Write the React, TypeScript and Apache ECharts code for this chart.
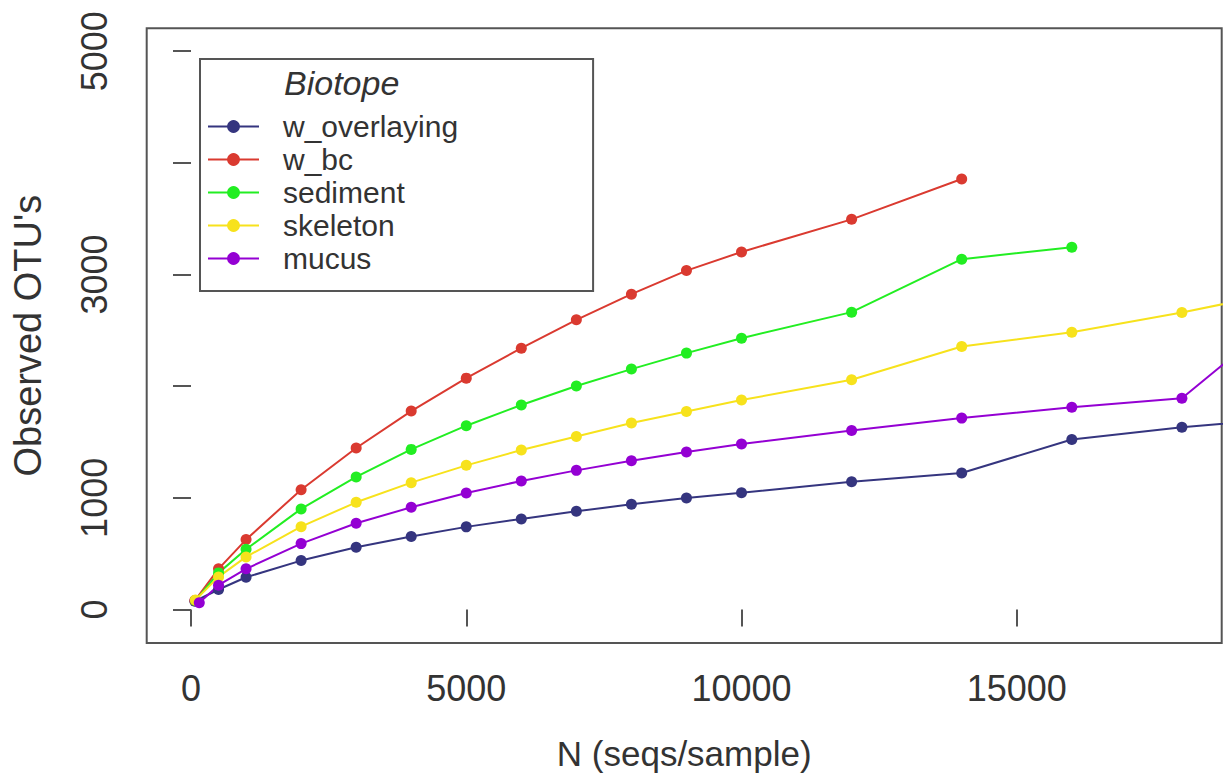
import React, { useEffect, useRef } from "react";
import * as echarts from "echarts";

const FONT = "'Liberation Sans', Arial, Helvetica, sans-serif";

const seriesNames = ["w_overlaying", "w_bc", "sediment", "skeleton", "mucus"];
const seriesColors = ["#35357F", "#DA3A30", "#22EE22", "#F7E21C", "#9400D3"];

const xTicks = [0, 5000, 10000, 15000];
const yTicks = [0, 1000, 2000, 3000, 4000, 5000];
const yLabels = [0, 1000, 3000, 5000];

// sampling depths
const xOverlaying = [70, 500, 1000, 2000, 3000, 4000, 5000, 6000, 7000, 8000, 9000, 10000, 12000, 14000, 16000, 18000, 20000];
const yOverlaying = [74, 179, 289, 438, 557, 653, 740, 811, 879, 942, 999, 1046, 1145, 1223, 1522, 1633, 1716];

const xBc = [70, 500, 1000, 2000, 3000, 4000, 5000, 6000, 7000, 8000, 9000, 10000, 12000, 14000];
const yBc = [80, 364, 626, 1073, 1446, 1777, 2072, 2340, 2594, 2824, 3035, 3202, 3494, 3855];

const xSediment = [80, 500, 1000, 2000, 3000, 4000, 5000, 6000, 7000, 8000, 9000, 10000, 12000, 14000, 16000];
const ySediment = [80, 328, 540, 901, 1187, 1434, 1646, 1831, 2001, 2153, 2296, 2430, 2663, 3137, 3245];

const xSkeleton = [80, 500, 1000, 2000, 3000, 4000, 5000, 6000, 7000, 8000, 9000, 10000, 12000, 14000, 16000, 18000, 20000];
const ySkeleton = [85, 292, 471, 742, 960, 1136, 1291, 1428, 1550, 1670, 1774, 1876, 2057, 2355, 2483, 2660, 2860];

const xMucus = [150, 500, 1000, 2000, 3000, 4000, 5000, 6000, 7000, 8000, 9000, 10000, 12000, 14000, 16000, 18000, 20000];
const yMucus = [60, 218, 364, 590, 772, 915, 1044, 1151, 1246, 1333, 1411, 1482, 1604, 1714, 1812, 1892, 2700];

const xs = [xOverlaying, xBc, xSediment, xSkeleton, xMucus];
const ys = [yOverlaying, yBc, ySediment, ySkeleton, yMucus];

export default function App() {
  const ref = useRef<HTMLDivElement>(null);
  useEffect(() => {
    if (!ref.current) return;
    const chart = echarts.init(ref.current, undefined, { renderer: "svg" });
    const series = seriesNames.map((name, i) => ({
      name,
      type: "line",
      data: xs[i].map((x, j) => [x, ys[i][j]]),
      symbol: "circle",
      symbolSize: 11,
      showSymbol: true,
      clip: true,
      color: seriesColors[i],
      itemStyle: { color: seriesColors[i] },
      lineStyle: { color: seriesColors[i], width: 2 },
      emphasis: { disabled: true },
    }));
    chart.setOption({
      animation: false,
      backgroundColor: "#ffffff",
      grid: {
        left: 146.7,
        right: 1.3,
        top: 28.3,
        bottom: 140,
        show: true,
        borderColor: "#555",
        borderWidth: 2,
      },
      xAxis: {
        type: "value",
        min: -805,
        max: 18723,
        axisLine: { show: false },
        splitLine: { show: false },
        axisTick: {
          show: true,
          length: 17,
          lineStyle: { color: "#555", width: 2 },
          customValues: xTicks,
        },
        axisLabel: {
          customValues: xTicks,
          formatter: (v: number) => String(v),
          fontSize: 36,
          color: "#333",
          fontFamily: FONT,
          margin: 27,
        },
        name: "N (seqs/sample)",
        nameLocation: "middle",
        nameGap: 93,
        nameTextStyle: { fontSize: 35, color: "#333", fontFamily: FONT },
      },
      yAxis: {
        type: "value",
        min: -300,
        max: 5205,
        axisLine: { show: false },
        splitLine: { show: false },
        axisTick: {
          show: true,
          length: 18,
          lineStyle: { color: "#555", width: 2 },
          customValues: yTicks,
        },
        axisLabel: {
          customValues: yLabels,
          formatter: (v: number) => String(v),
          rotate: 90,
          fontSize: 36,
          color: "#333",
          fontFamily: FONT,
          margin: 34,
        },
        name: "Observed OTU's",
        nameLocation: "middle",
        nameGap: 100,
        nameTextStyle: { fontSize: 38, color: "#333", fontFamily: FONT },
      },
      legend: {
        orient: "vertical",
        left: 200,
        top: 59,
        padding: [51, 135, 16, 7],
        itemWidth: 51,
        itemHeight: 16,
        itemGap: 0,
        selectedMode: false,
        borderColor: "#555",
        borderWidth: 2,
        backgroundColor: "#fff",
        data: seriesNames,
        textStyle: {
          fontSize: 30,
          color: "#333",
          fontFamily: FONT,
          lineHeight: 33,
          padding: [0, 0, 0, 19],
        },
      },
      graphic: [
        {
          type: "text",
          x: 284,
          y: 83,
          z: 100,
          style: {
            text: "Biotope",
            font: `italic 34px ${FONT}`,
            fill: "#333",
            textAlign: "left",
            textVerticalAlign: "middle",
          },
        },
      ],
      series,
    });
    return () => chart.dispose();
  }, []);
  return (
    <div
      ref={ref}
      style={{ position: "absolute", left: 0, top: 0, width: 1223, height: 783 }}
    />
  );
}
